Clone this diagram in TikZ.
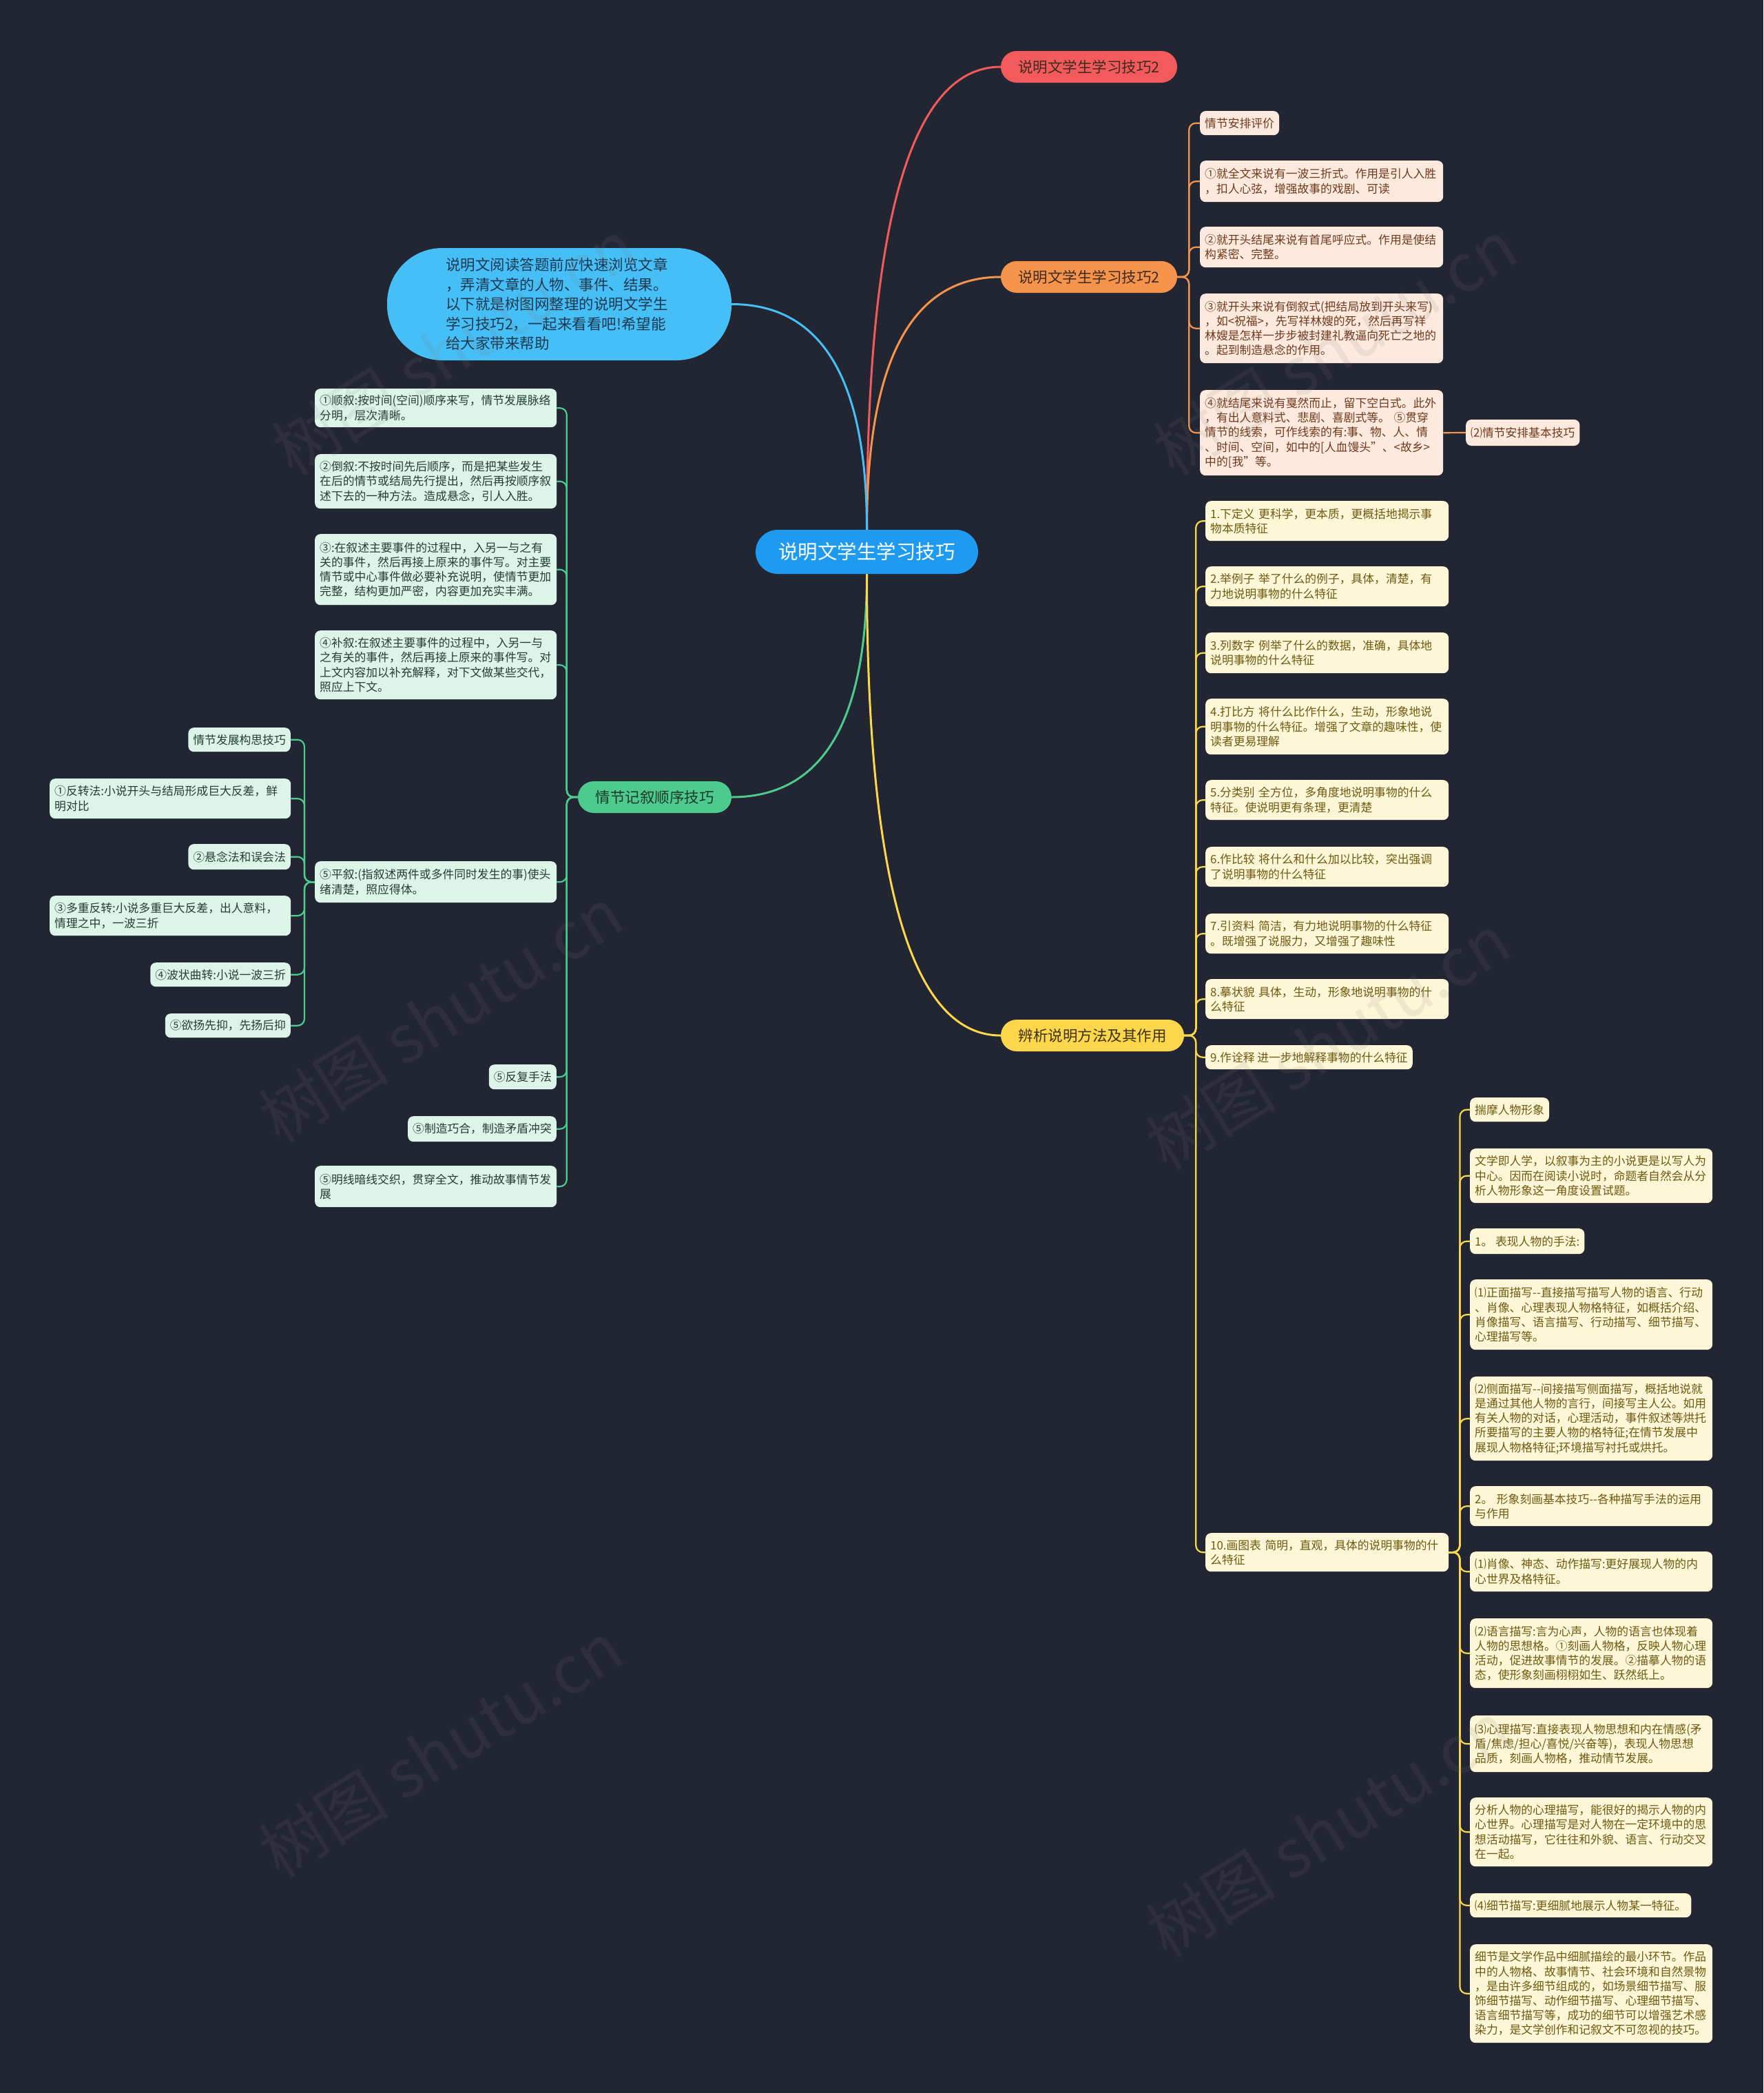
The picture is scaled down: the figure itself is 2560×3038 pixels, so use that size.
\documentclass[tikz,border=0pt]{standalone}
\usepackage{fontspec}
\setmainfont{Noto Sans CJK SC}
\usetikzlibrary{calc}
\pgfdeclarelayer{bg}\pgfdeclarelayer{lines}\pgfdeclarelayer{wm}
\pgfsetlayers{bg,lines,main,wm}
\definecolor{bgc}{HTML}{222633}
\definecolor{rootc}{HTML}{1E9BF0}
\definecolor{notec}{HTML}{45BFF6}
\definecolor{notetext}{HTML}{1D3850}
\definecolor{redc}{HTML}{F25A5B}
\definecolor{orgc}{HTML}{F7944C}
\definecolor{grnc}{HTML}{4DCB8D}
\definecolor{ylwc}{HTML}{FCD64B}
\definecolor{brtext}{HTML}{3E2A1E}
\definecolor{grtext}{HTML}{1C3A2B}
\definecolor{yltext}{HTML}{3C3210}
\definecolor{ofill}{HTML}{FDE9DD}
\definecolor{otext}{HTML}{6E3A1E}
\definecolor{gfill}{HTML}{DDF5E9}
\definecolor{gtext}{HTML}{22402F}
\definecolor{yfill}{HTML}{FDF6D7}
\definecolor{ytext}{HTML}{6E5A12}
\newcommand\cf{\fontsize{16.8}{21.2}\selectfont}
\newcommand\brfont{\fontsize{21.5}{26}\selectfont}
\newcommand\rtfont{\fontsize{28.5}{34}\selectfont}
\newcommand\ntfont{\fontsize{21.5}{28.6}\selectfont}
\newcommand\wmfont{\fontsize{95}{100}\selectfont}
\tikzset{
  cbox/.style={inner xsep=7pt, inner ysep=6pt, rounded corners=8pt, align=left, font=\cf},
  oc/.style={cbox, fill=ofill, text=otext},
  gc/.style={cbox, fill=gfill, text=gtext},
  yc/.style={cbox, fill=yfill, text=ytext},
  wo/.style={text width=339pt},
  wg/.style={text width=337pt},
  wz/.style={text width=338pt},
  branch/.style={rounded corners=23pt, minimum height=46pt, font=\brfont, inner xsep=0pt},
  blink/.style={line width=3pt},
  clink/.style={line width=2.2pt, rounded corners=10pt},
  wmark/.style={rotate=32, text=gray, opacity=0.12, font=\wmfont},
}
\begin{document}
\begin{tikzpicture}[x=1pt,y=-1pt]
\begin{pgfonlayer}{bg}
\fill[bgc] (0,0) rectangle (2560,3038);
\end{pgfonlayer}
\useasboundingbox (0,0) rectangle (2560,3038);

% root and branches
\node[fill=rootc, text=white, font=\rtfont, minimum width=323pt, minimum height=64pt, rounded corners=32pt] (root) at (1258.5,801) {说明文学生学习技巧};
\node[fill=notec, text=notetext, font=\ntfont, minimum width=500pt, minimum height=163pt, rounded corners=80pt, text width=330pt, align=left] (note) at (812,441.5) {说明文阅读答题前应快速浏览文章\\，弄清文章的人物、事件、结果。\\以下就是树图网整理的说明文学生\\学习技巧2，一起来看看吧!希望能\\给大家带来帮助};
\node[branch, fill=redc, text=brtext, minimum width=256pt] (red) at (1581,97) {说明文学生学习技巧2};
\node[branch, fill=orgc, text=brtext, minimum width=256pt] (orange) at (1581,402) {说明文学生学习技巧2};
\node[branch, fill=grnc, text=grtext, minimum width=223pt] (green) at (950.5,1157) {情节记叙顺序技巧};
\node[branch, fill=ylwc, text=yltext, minimum width=266pt] (yellow) at (1586,1503) {辨析说明方法及其作用};

% orange children
\node[oc, anchor=north west, minimum height=35pt] (o1) at (1742,161) {情节安排评价};
\node[oc, wo, anchor=north west, minimum height=60pt] (o2) at (1742,233) {①就全文来说有一波三折式。作用是引人入胜\\，扣人心弦，增强故事的戏剧、可读};
\node[oc, wo, anchor=north west, minimum height=59pt] (o3) at (1742,329) {②就开头结尾来说有首尾呼应式。作用是使结\\构紧密、完整。};
\node[oc, wo, anchor=north west, minimum height=101pt] (o4) at (1742,426) {③就开头来说有倒叙式(把结局放到开头来写)\\，如<祝福>，先写祥林嫂的死，然后再写祥\\林嫂是怎样一步步被封建礼教逼向死亡之地的\\。起到制造悬念的作用。};
\node[oc, wo, anchor=north west, minimum height=124pt] (o5) at (1742,566) {④就结尾来说有戛然而止，留下空白式。此外\\，有出人意料式、悲剧、喜剧式等。 ⑤贯穿\\情节的线索，可作线索的有:事、物、人、情\\、时间、空间，如中的[人血馒头"、<故乡>\\中的[我"等。};
\node[oc, anchor=west, minimum height=38pt] (o6) at (2128,628) {⑵情节安排基本技巧};

% green children
\node[gc, wg, anchor=north west, minimum height=56pt] (g1) at (457,564) {①顺叙:按时间(空间)顺序来写，情节发展脉络\\分明，层次清晰。};
\node[gc, wg, anchor=north west, minimum height=79pt] (g2) at (457,659) {②倒叙:不按时间先后顺序，而是把某些发生\\在后的情节或结局先行提出，然后再按顺序叙\\述下去的一种方法。造成悬念，引人入胜。};
\node[gc, wg, anchor=north west, minimum height=103pt] (g3) at (457,775) {③:在叙述主要事件的过程中，入另一与之有\\关的事件，然后再接上原来的事件写。对主要\\情节或中心事件做必要补充说明，使情节更加\\完整，结构更加严密，内容更加充实丰满。};
\node[gc, wg, anchor=north west, minimum height=100pt] (g4) at (457,915) {④补叙:在叙述主要事件的过程中，入另一与\\之有关的事件，然后再接上原来的事件写。对\\上文内容加以补充解释，对下文做某些交代，\\照应上下文。};
\node[gc, wg, anchor=north west, minimum height=60pt] (g5) at (457,1250) {⑤平叙:(指叙述两件或多件同时发生的事)使头\\绪清楚，照应得体。};
\node[gc, anchor=north east, minimum height=36pt] (g6) at (808,1545) {⑤反复手法};
\node[gc, anchor=north east, minimum height=37pt] (g7) at (808,1620) {⑤制造巧合，制造矛盾冲突};
\node[gc, wg, anchor=north west, minimum height=60pt] (g8) at (457,1692) {⑤明线暗线交织，贯穿全文，推动故事情节发\\展};

% green grandchildren
\node[gc, anchor=north east, minimum height=35pt] (gg1) at (422,1056) {情节发展构思技巧};
\node[gc, text width=336pt, anchor=north west, minimum height=58pt] (gg2) at (72,1130) {①反转法:小说开头与结局形成巨大反差，鲜\\明对比};
\node[gc, anchor=north east, minimum height=37pt] (gg3) at (422,1225) {②悬念法和误会法};
\node[gc, text width=336pt, anchor=north west, minimum height=58pt] (gg4) at (72,1300) {③多重反转:小说多重巨大反差，出人意料，\\情理之中，一波三折};
\node[gc, anchor=north east, minimum height=35pt] (gg5) at (422,1397) {④波状曲转:小说一波三折};
\node[gc, anchor=north east, minimum height=35pt] (gg6) at (422,1471) {⑤欲扬先抑，先扬后抑};

% yellow children
\node[yc, wo, anchor=north west, minimum height=58pt] (y1) at (1750,727) {1.下定义 更科学，更本质，更概括地揭示事\\物本质特征};
\node[yc, wo, anchor=north west, minimum height=58pt] (y2) at (1750,822) {2.举例子 举了什么的例子，具体，清楚，有\\力地说明事物的什么特征};
\node[yc, wo, anchor=north west, minimum height=59pt] (y3) at (1750,918) {3.列数字 例举了什么的数据，准确，具体地\\说明事物的什么特征};
\node[yc, wo, anchor=north west, minimum height=81pt] (y4) at (1750,1014) {4.打比方 将什么比作什么，生动，形象地说\\明事物的什么特征。增强了文章的趣味性，使\\读者更易理解};
\node[yc, wo, anchor=north west, minimum height=58pt] (y5) at (1750,1132) {5.分类别 全方位，多角度地说明事物的什么\\特征。使说明更有条理，更清楚};
\node[yc, wo, anchor=north west, minimum height=58pt] (y6) at (1750,1229) {6.作比较 将什么和什么加以比较，突出强调\\了说明事物的什么特征};
\node[yc, wo, anchor=north west, minimum height=58pt] (y7) at (1750,1326) {7.引资料 简洁，有力地说明事物的什么特征\\。既增强了说服力，又增强了趣味性};
\node[yc, wo, anchor=north west, minimum height=58pt] (y8) at (1750,1421) {8.摹状貌 具体，生动，形象地说明事物的什\\么特征};
\node[yc, anchor=north west, minimum height=35pt] (y9) at (1750,1517) {9.作诠释 进一步地解释事物的什么特征};
\node[yc, wo, anchor=north west, minimum height=56pt] (y10) at (1750,2225) {10.画图表 简明，直观，具体的说明事物的什\\么特征};

% yellow grandchildren
\node[yc, anchor=north west, minimum height=35pt] (z1) at (2134,1593) {揣摩人物形象};
\node[yc, wz, anchor=north west, minimum height=79pt] (z2) at (2134,1667) {文学即人学，以叙事为主的小说更是以写人为\\中心。因而在阅读小说时，命题者自然会从分\\析人物形象这一角度设置试题。};
\node[yc, anchor=north west, minimum height=37pt] (z3) at (2134,1783) {1。 表现人物的手法:};
\node[yc, wz, anchor=north west, minimum height=102pt] (z4) at (2134,1857) {⑴正面描写-{}-直接描写描写人物的语言、行动\\、肖像、心理表现人物格特征，如概括介绍、\\肖像描写、语言描写、行动描写、细节描写、\\心理描写等。};
\node[yc, wz, anchor=north west, minimum height=122pt] (z5) at (2134,1998) {⑵侧面描写-{}-间接描写侧面描写，概括地说就\\是通过其他人物的言行，间接写主人公。如用\\有关人物的对话，心理活动，事件叙述等烘托\\所要描写的主要人物的格特征;在情节发展中\\展现人物格特征;环境描写衬托或烘托。};
\node[yc, wz, anchor=north west, minimum height=58pt] (z6) at (2134,2157) {2。 形象刻画基本技巧-{}-各种描写手法的运用\\与作用};
\node[yc, wz, anchor=north west, minimum height=58pt] (z7) at (2134,2252) {⑴肖像、神态、动作描写:更好展现人物的内\\心世界及格特征。};
\node[yc, wz, anchor=north west, minimum height=101pt] (z8) at (2134,2349) {⑵语言描写:言为心声，人物的语言也体现着\\人物的思想格。①刻画人物格，反映人物心理\\活动，促进故事情节的发展。②描摹人物的语\\态，使形象刻画栩栩如生、跃然纸上。};
\node[yc, wz, anchor=north west, minimum height=82pt] (z9) at (2134,2490) {⑶心理描写:直接表现人物思想和内在情感(矛\\盾/焦虑/担心/喜悦/兴奋等)，表现人物思想\\品质，刻画人物格，推动情节发展。};
\node[yc, wz, anchor=north west, minimum height=100pt] (z10) at (2134,2609) {分析人物的心理描写，能很好的揭示人物的内\\心世界。心理描写是对人物在一定环境中的思\\想活动描写，它往往和外貌、语言、行动交叉\\在一起。};
\node[yc, anchor=north west, minimum height=35pt] (z11) at (2134,2748) {⑷细节描写:更细腻地展示人物某一特征。};
\node[yc, wz, anchor=north west, minimum height=143pt] (z12) at (2134,2822) {细节是文学作品中细腻描绘的最小环节。作品\\中的人物格、故事情节、社会环境和自然景物\\，是由许多细节组成的，如场景细节描写、服\\饰细节描写、动作细节描写、心理细节描写、\\语言细节描写等，成功的细节可以增强艺术感\\染力，是文学创作和记叙文不可忽视的技巧。};

% connectors
\begin{pgfonlayer}{lines}
\coordinate (kr) at (root.north |- red.west);
\coordinate (ko) at (root.north |- orange.west);
\coordinate (kn) at (root.north |- note.east);
\coordinate (kg) at (root.south |- green.east);
\coordinate (ky) at (root.south |- yellow.west);
\draw[blink, draw=redc] (root.north) .. controls ($(root.north)!0.667!(kr)$) and ($(red.west)!0.667!(kr)$) .. (red.west);
\draw[blink, draw=orgc] (root.north) .. controls ($(root.north)!0.667!(ko)$) and ($(orange.west)!0.667!(ko)$) .. (orange.west);
\draw[blink, draw=notec] (root.north) .. controls ($(root.north)!0.667!(kn)$) and ($(note.east)!0.667!(kn)$) .. (note.east);
\draw[blink, draw=grnc] (root.south) .. controls ($(root.south)!0.667!(kg)$) and ($(green.east)!0.667!(kg)$) .. (green.east);
\draw[blink, draw=ylwc] (root.south) .. controls ($(root.south)!0.667!(ky)$) and ($(yellow.west)!0.667!(ky)$) .. (yellow.west);
\foreach \n in {o1,o2,o3,o4,o5} \draw[clink, draw=orgc] (orange.east) -- ++(17,0) |- (\n.west);
\draw[clink, draw=orgc] (o5.east) -- (o6.west);
\foreach \n in {g1,g2,g3,g4,g5,g6,g7,g8} \draw[clink, draw=grnc] (green.west) -- ++(-16,0) |- (\n.east);
\foreach \n in {gg1,gg2,gg3,gg4,gg5,gg6} \draw[clink, draw=grnc] (g5.west) -- ++(-15,0) |- (\n.east);
\foreach \n in {y1,y2,y3,y4,y5,y6,y7,y8,y9,y10} \draw[clink, draw=ylwc] (yellow.east) -- ++(17,0) |- (\n.west);
\foreach \n in {z1,z2,z3,z4,z5,z6,z7,z8,z9,z10,z11,z12} \draw[clink, draw=ylwc] (y10.east) -- ++(16,0) |- (\n.west);
\end{pgfonlayer}

% watermark
\begin{pgfonlayer}{wm}
\node[wmark] (wm1) at (659,504) {树图 shutu.cn};
\node[wmark] (wm2) at (1938,504) {树图 shutu.cn};
\node[wmark] (wm3) at (640,1473) {树图 shutu.cn};
\node[wmark] (wm4) at (1928,1512) {树图 shutu.cn};
\node[wmark] (wm5) at (640,2539) {树图 shutu.cn};
\node[wmark] (wm6) at (1928,2655) {树图 shutu.cn};
\end{pgfonlayer}
\end{tikzpicture}
\end{document}
